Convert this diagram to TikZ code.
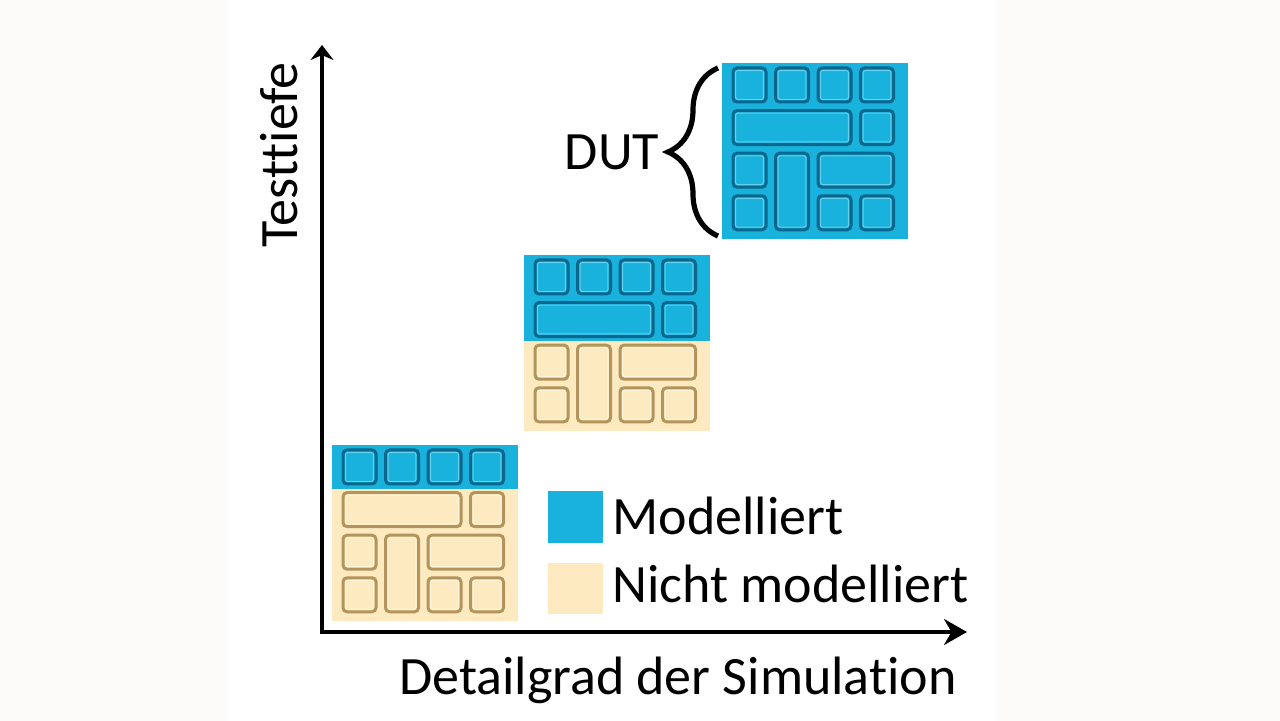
\documentclass[tikz,border=0pt]{standalone}
\usepackage{fontspec}
\setmainfont{Carlito}[Ligatures={NoCommon,NoRare,NoContextual},Contextuals={NoAlternate}]
\usetikzlibrary{arrows.meta}
\usetikzlibrary{decorations.pathreplacing}

\definecolor{modblue}{RGB}{24,178,220}
\definecolor{modline}{RGB}{10,104,142}
\definecolor{modhigh}{RGB}{100,208,238}
\definecolor{nonbeige}{RGB}{253,234,192}
\definecolor{nonline}{RGB}{180,148,90}
\definecolor{nonhigh}{RGB}{255,246,222}
\definecolor{paper}{RGB}{252,251,249}

\tikzstyle{modcell} = [draw=modline, line width=1.5pt, rounded corners=2pt]
\tikzstyle{noncell} = [draw=nonline, line width=1.5pt, rounded corners=2pt]
\tikzstyle{modhi} = [draw=modhigh, line width=0.5pt, rounded corners=1pt]
\tikzstyle{nonhi} = [draw=nonhigh, line width=0.5pt, rounded corners=1pt]
\tikzstyle{axis} = [line width=1.6pt, {Stealth[length=7.5pt,width=11.5pt]}-{Stealth[length=11.5pt,width=13pt]}]
\tikzstyle{txt} = [font=\fontsize{27}{31}\selectfont, inner sep=0pt]
\tikzstyle{legbox} = [rectangle, minimum width=27.5pt, minimum height=25.5pt, inner sep=0pt]
\tikzstyle{dutbrace} = [decorate, decoration={brace, amplitude=25pt}, line width=2.6pt]

% one stack of components: #1,#2 = top left corner, #3 = rows that are modelled
\newcommand{\stackblock}[3]{%
  \ifnum#3>3
    \fill[modblue] (#1,#2) rectangle ++(186,176);
  \else
    \fill[nonbeige] (#1,#2) rectangle ++(186,176);
    \fill[modblue] (#1,#2) rectangle ++(186,{42.6*#3+1});
  \fi
  \foreach \ci/\ri/\ws/\hs in {0/0/1/1,1/0/1/1,2/0/1/1,3/0/1/1,0/1/3/1,3/1/1/1,
                               0/2/1/1,1/2/1/2,2/2/2/1,0/3/1/1,2/3/1/1,3/3/1/1}{
    \ifnum\ri<#3 \def\cellcol{modcell}\def\cellhi{modhi}%
    \else \def\cellcol{noncell}\def\cellhi{nonhi}\fi
    \draw[\cellcol] ({#1+11+42.5*\ci},{#2+5+42.6*\ri})
      rectangle ({#1+1.5+42.5*(\ci+\ws)},{#2-3.6+42.6*(\ri+\hs)});
    \draw[\cellhi] ({#1+13.6+42.5*\ci},{#2+7.6+42.6*\ri})
      rectangle ({#1-1.1+42.5*(\ci+\ws)},{#2-6.2+42.6*(\ri+\hs)});
  }%
}

\begin{document}
\begin{tikzpicture}[x=0.5pt, y=-0.5pt]

\useasboundingbox (0,0) rectangle (1280,721);
\fill[paper] (0,0) rectangle (1280,721);
\fill[white] (228,0) rectangle (997,721);

% stacks
\stackblock{332}{445}{1}
\stackblock{524}{255}{2}
\stackblock{722}{63}{4}

% axes
\coordinate (origin) at (322,632);
\coordinate (ytip) at (322,45);
\coordinate (xtip) at (967,632);
\draw [axis] (ytip) -- (origin) -- (xtip);

\node (ylabel) [txt, rotate=90, anchor=base] at (297,155) {Testtiefe};
\node (xlabel) [txt, anchor=base] at (678,694) {Detailgrad der Simulation};

% device under test
\coordinate (dutbot) at (718,236);
\coordinate (duttop) at (718,68);
\draw [dutbrace] (dutbot) -- (duttop);
\node (dut) [txt, anchor=base] at (612,170) {DUT};

% legend
\node (legmod) [legbox, fill=modblue] at (575.5,517) {};
\node (legnon) [legbox, fill=nonbeige] at (575.5,588) {};
\node (legmodtxt) [txt, anchor=base west] at (612,535) {Modelliert};
\node (legnontxt) [txt, anchor=base west] at (612,602) {Nicht modelliert};

\end{tikzpicture}
\end{document}
